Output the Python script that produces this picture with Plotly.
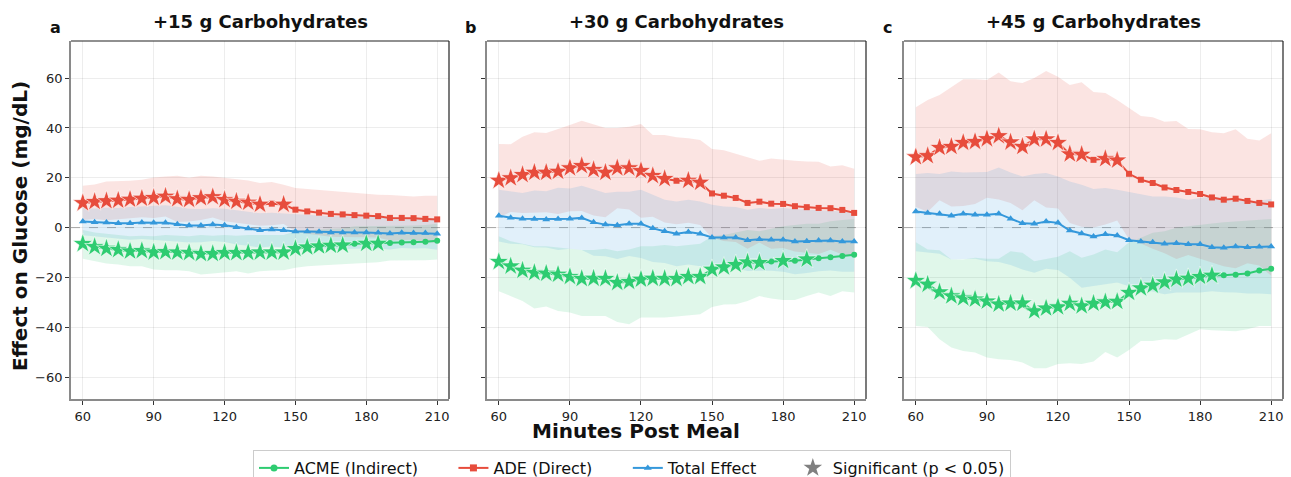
import plotly.graph_objects as go

minutes = list(range(60, 215, 5))

# ---------- Panel a: +15 g ----------
a_acme = [-6.5,-7.7,-8.4,-8.9,-9.5,-9.3,-9.9,-9.7,-9.9,-10.1,-10.5,-10.5,-10.1,-10.1,-10.1,-9.9,-9.9,-9.9,-8.5,-7.9,-7.5,-7.2,-7.1,-6.5,-6.4,-6.4,-6.2,-6.0,-5.9,-5.7,-5.3]
a_acme_hi = [-1.0,-2.0,-2.5,-3.0,-3.5,-3.3,-3.5,-3.0,-3.3,-3.5,-3.0,-3.3,-3.0,-3.3,-3.0,-3.0,-3.0,-3.0,-1.5,-1.0,-0.8,-0.5,-0.3,0.5,0.5,0.5,0.5,0.8,0.8,1.0,1.5]
a_acme_lo = [-12.5,-13.5,-14.4,-14.8,-15.5,-15.5,-16.8,-17.1,-17.1,-17.5,-18.8,-18.4,-17.9,-17.5,-18.4,-17.5,-17.2,-17.1,-16.1,-15.5,-15.2,-14.9,-14.8,-14.4,-13.9,-13.9,-13.2,-13.2,-13.1,-13.1,-12.8]
a_acme_sig = [1]*23 + [0,1,1] + [0]*5
a_ade = [9.9,10.4,10.7,10.9,11.3,11.7,12.0,12.5,11.5,11.2,11.9,12.3,11.2,10.5,10.1,9.3,9.6,9.3,7.2,6.5,6.0,5.5,5.3,5.0,4.8,4.6,3.9,3.9,3.8,3.5,3.3]
a_ade_hi = [16.8,17.3,18.5,18.5,18.8,19.2,20.1,20.5,20.8,20.0,20.8,20.5,19.9,19.2,18.9,17.9,18.3,17.2,15.9,15.5,15.1,14.7,14.4,14.0,13.5,13.2,13.1,12.8,12.5,12.8,12.8]
a_ade_lo = [3.0,3.5,2.9,3.3,3.8,4.2,3.9,4.5,2.2,2.4,3.0,4.1,2.5,1.8,1.3,0.7,0.9,1.4,-1.5,-2.5,-3.1,-3.7,-3.8,-4.0,-3.9,-4.0,-5.3,-5.0,-4.9,-5.8,-6.2]
a_ade_sig = [1]*16 + [0,1] + [0]*13
a_tot = [2.4,2.1,2.0,1.7,1.7,2.0,1.9,1.9,1.3,0.8,0.8,1.2,0.9,0.1,-0.4,-1.1,-0.8,-1.1,-1.6,-1.6,-1.7,-2.0,-2.0,-2.0,-2.0,-2.1,-2.4,-2.1,-2.2,-2.2,-2.5]
a_tot_hi = [7.9,7.7,8.0,7.9,8.3,8.6,8.8,9.0,8.4,7.6,7.5,7.8,7.6,7.0,6.5,5.8,6.0,5.7,5.2,5.0,4.9,4.6,4.6,4.5,4.4,4.2,4.0,4.0,4.0,3.9,3.9]
a_tot_lo = [-3.1,-3.5,-4.0,-4.5,-4.9,-4.6,-5.0,-5.2,-5.8,-6.0,-5.9,-5.4,-5.8,-6.8,-7.3,-8.0,-7.6,-7.9,-8.4,-8.2,-8.3,-8.6,-8.6,-8.5,-8.4,-8.4,-8.8,-8.2,-8.4,-8.3,-8.9]

# ---------- Panel b: +30 g ----------
b_acme = [-13.7,-15.5,-17.2,-18.1,-18.4,-18.8,-19.7,-20.5,-20.4,-20.5,-22.1,-21.7,-20.8,-20.4,-20.5,-20.5,-19.7,-19.7,-16.8,-15.9,-14.9,-13.9,-14.1,-13.6,-13.3,-13.3,-12.7,-12.3,-11.9,-11.4,-10.9]
b_acme_hi = [-3.5,-5.5,-6.5,-7.5,-7.5,-8.0,-8.8,-9.0,-9.0,-8.5,-9.5,-8.8,-7.5,-7.5,-7.0,-7.5,-7.0,-6.5,-3.5,-3.0,-2.0,-1.0,-1.5,-0.5,0.5,1.0,1.5,1.5,2.5,3.0,3.5]
b_acme_lo = [-25.5,-27.5,-29.5,-32.5,-31.7,-33.5,-34.1,-35.5,-35.5,-35.5,-37.9,-38.8,-36.1,-36.1,-36.1,-35.7,-35.2,-34.8,-31.9,-30.9,-30.8,-29.5,-27.5,-28.5,-29.1,-29.1,-27.5,-26.1,-27.5,-25.5,-26.1]
b_acme_sig = [1]*23 + [0,1,0,1] + [0]*4
b_ade = [18.9,19.9,21.2,22.1,22.1,22.5,23.9,24.8,23.2,22.1,23.9,23.9,22.8,20.8,19.6,18.8,18.9,18.1,13.7,12.8,11.9,9.9,10.4,9.6,9.5,8.6,8.2,7.9,7.8,7.1,5.9]
b_ade_hi = [33.6,33.5,36.5,38.3,38.0,39.5,41.2,42.9,41.5,40.0,40.0,40.5,41.6,37.2,37.2,36.3,35.9,35.2,31.5,31.0,29.6,28.3,26.8,27.7,27.2,26.8,26.5,26.4,24.5,25.0,23.6]
b_ade_lo = [4.2,6.3,5.9,5.9,6.2,5.5,6.6,6.7,4.9,4.2,7.8,7.3,4.0,4.4,2.0,1.3,1.9,1.0,-4.1,-5.4,-5.8,-8.5,-6.0,-8.5,-8.2,-9.6,-10.1,-10.6,-8.9,-10.8,-11.8]
b_ade_sig = [1]*15 + [0,1,1] + [0]*13
b_tot = [4.8,4.0,3.6,3.5,3.3,3.5,3.6,3.9,2.1,1.2,0.9,1.5,1.5,-0.3,-1.5,-2.5,-1.8,-2.5,-4.0,-4.0,-4.0,-5.1,-4.7,-4.9,-4.9,-5.6,-5.5,-5.2,-5.2,-5.6,-5.6]
b_tot_hi = [15.2,14.5,13.9,14.9,14.6,16.0,15.7,16.8,15.5,13.9,14.4,14.4,15.2,13.2,11.2,10.5,11.2,10.5,9.2,8.5,8.3,7.2,7.9,7.5,7.9,7.5,7.2,7.1,6.8,6.5,6.5]
b_tot_lo = [-5.6,-6.5,-6.7,-7.9,-8.0,-9.0,-8.5,-9.0,-11.3,-11.5,-12.6,-11.4,-12.2,-13.8,-14.2,-15.5,-14.8,-15.5,-17.2,-16.5,-16.3,-17.4,-17.3,-17.3,-17.7,-18.7,-18.2,-17.5,-17.2,-17.7,-17.7]

# ---------- Panel c: +45 g ----------
c_acme = [-21.3,-22.8,-25.9,-27.5,-28.3,-28.8,-29.6,-30.8,-30.4,-30.4,-33.5,-32.4,-31.9,-30.5,-31.5,-30.5,-29.9,-29.7,-26.1,-24.3,-23.2,-21.9,-20.8,-20.4,-19.7,-19.2,-19.1,-18.9,-18.4,-17.2,-16.5]
c_acme_hi = [-5.9,-8.8,-9.1,-12.8,-12.8,-12.1,-12.5,-12.5,-9.5,-10.1,-13.5,-12.5,-11.7,-9.5,-12.1,-10.8,-8.8,-9.9,-5.9,-4.1,-2.1,-1.5,-0.1,0.5,1.2,1.6,2.1,2.4,2.9,3.2,3.5]
c_acme_lo = [-39.5,-39.9,-44.8,-48.1,-49.5,-50.1,-52.1,-52.8,-53.1,-54.1,-56.5,-56.5,-54.8,-54.5,-54.8,-53.7,-49.9,-52.1,-49.1,-45.5,-45.5,-44.8,-45.0,-42.8,-40.8,-41.2,-41.5,-41.6,-40.8,-39.5,-39.5]
c_acme_sig = [1]*26 + [0]*5
c_ade = [28.3,28.8,32.1,32.5,34.1,34.5,35.6,36.8,34.3,32.5,35.5,35.5,34.1,29.5,29.3,27.2,27.6,27.0,21.6,19.2,17.9,16.1,15.1,14.3,13.5,12.1,11.2,11.6,10.7,9.9,9.3]
c_ade_hi = [48.3,51.2,53.2,56.5,59.5,59.5,59.2,62.3,58.7,58.0,60.0,62.9,60.5,57.2,58.3,54.4,54.0,51.2,47.9,44.8,44.3,42.5,42.8,39.6,39.5,38.3,37.9,39.5,35.7,35.0,37.9]
c_ade_lo = [8.3,6.4,11.0,8.5,8.7,9.5,12.0,11.3,9.9,7.0,11.0,8.1,7.7,1.8,0.3,0.0,1.2,2.8,-4.7,-6.4,-8.5,-10.3,-12.6,-11.0,-12.5,-14.1,-15.5,-16.3,-14.3,-15.2,-19.3]
c_ade_sig = [1]*15 + [0,1,1] + [0]*13
c_tot = [6.5,5.9,5.6,4.8,5.6,5.2,5.2,5.6,3.6,1.7,1.5,2.4,1.9,-1.2,-2.4,-3.6,-2.7,-3.2,-5.1,-5.6,-5.9,-6.5,-6.3,-6.7,-6.7,-7.9,-8.1,-7.6,-7.9,-7.7,-7.6]
c_tot_hi = [21.5,21.9,21.5,22.5,22.1,22.3,22.3,24.1,22.1,20.5,21.5,21.9,20.5,18.5,17.2,15.5,15.9,15.2,14.3,13.2,12.5,12.5,12.1,11.2,11.9,12.5,11.9,11.2,10.5,10.9,11.5]
c_tot_lo = [-9.5,-10.0,-10.5,-12.8,-12.5,-12.5,-13.5,-13.8,-15.0,-16.8,-18.1,-16.5,-17.0,-20.1,-24.1,-23.5,-22.8,-22.0,-23.5,-24.5,-25.5,-26.8,-26.1,-26.0,-26.1,-25.5,-26.0,-26.1,-26.5,-26.5,-26.8]

panel_titles = ["+15 g Carbohydrates", "+30 g Carbohydrates", "+45 g Carbohydrates"]
panel_letters = ["a", "b", "c"]
x_ticks = [60, 90, 120, 150, 180, 210]
y_ticks = [-60, -40, -20, 0, 20, 40, 60]
legend_names = ["ACME (Indirect)", "ADE (Direct)", "Total Effect", "Significant (p < 0.05)"]

panels = [
    dict(acme=(a_acme, a_acme_lo, a_acme_hi, a_acme_sig), ade=(a_ade, a_ade_lo, a_ade_hi, a_ade_sig), tot=(a_tot, a_tot_lo, a_tot_hi)),
    dict(acme=(b_acme, b_acme_lo, b_acme_hi, b_acme_sig), ade=(b_ade, b_ade_lo, b_ade_hi, b_ade_sig), tot=(b_tot, b_tot_lo, b_tot_hi)),
    dict(acme=(c_acme, c_acme_lo, c_acme_hi, c_acme_sig), ade=(c_ade, c_ade_lo, c_ade_hi, c_ade_sig), tot=(c_tot, c_tot_lo, c_tot_hi)),
]

GREEN, RED, BLUE = "#2ecc71", "#e74c3c", "#3498db"
FILL = {"acme": "rgba(46,204,113,0.15)", "ade": "rgba(231,76,60,0.15)", "tot": "rgba(52,152,219,0.15)"}
COL = {"acme": GREEN, "ade": RED, "tot": BLUE}
SYM = {"acme": "circle", "ade": "square", "tot": "triangle-up"}
MSIZE = {"acme": 6, "ade": 6, "tot": 7}
FONT = "DejaVu Sans"
PAD = "\u00a0" * 6

fig = go.Figure()

W, H = 1291, 477
ml, mr, mt, mb = 71, 8, 41, 78
pw = W - ml - mr
ph = H - mt - mb
doms = [(71, 449), (487, 866), (904, 1283)]
domains = [((a - ml) / pw, (b - ml) / pw) for a, b in doms]
bottom = H - mb


def px_y(y):
    return (bottom - y) / ph


def px_x(x):
    return (x - ml) / pw


for i, p in enumerate(panels):
    xa = "x" if i == 0 else f"x{i+1}"
    ya = "y" if i == 0 else f"y{i+1}"
    for key in ["acme", "ade", "tot"]:
        vals = p[key]
        lo, hi = vals[1], vals[2]
        fig.add_trace(go.Scatter(x=minutes, y=hi, mode="lines", line=dict(width=0), xaxis=xa, yaxis=ya,
                                 showlegend=False, hoverinfo="skip"))
        fig.add_trace(go.Scatter(x=minutes, y=lo, mode="lines", line=dict(width=0), fill="tonexty",
                                 fillcolor=FILL[key], xaxis=xa, yaxis=ya, showlegend=False, hoverinfo="skip"))
    for key in ["acme", "ade", "tot"]:
        vals = p[key]
        y = vals[0]
        sig = vals[3] if len(vals) > 3 else [0] * len(y)
        fig.add_trace(go.Scatter(x=minutes, y=y, mode="lines", line=dict(color=COL[key], width=2),
                                 xaxis=xa, yaxis=ya, showlegend=False))
        xn = [m for m, s in zip(minutes, sig) if not s]
        yn = [v for v, s in zip(y, sig) if not s]
        fig.add_trace(go.Scatter(x=xn, y=yn, mode="markers",
                                 marker=dict(symbol=SYM[key], size=MSIZE[key], color=COL[key]),
                                 xaxis=xa, yaxis=ya, showlegend=False))
        xs = [m for m, s in zip(minutes, sig) if s]
        ys = [v for v, s in zip(y, sig) if s]
        if xs:
            fig.add_trace(go.Scatter(x=xs, y=ys, mode="markers",
                                     marker=dict(symbol="star", size=15, color=COL[key],
                                                 line=dict(color="white", width=0.6)),
                                     xaxis=xa, yaxis=ya, showlegend=False))

for name, key in zip(legend_names[:3], ["acme", "ade", "tot"]):
    fig.add_trace(go.Scatter(x=[None], y=[None], mode="lines+markers", name=name + PAD,
                             line=dict(color=COL[key], width=2),
                             marker=dict(symbol=SYM[key], size=7, color=COL[key])))
fig.add_trace(go.Scatter(x=[None], y=[None], mode="markers", name=legend_names[3],
                         marker=dict(symbol="star", size=14, color="gray")))

axis_common = dict(showline=True, mirror=False, linecolor="#8a8a8a", linewidth=1.8,
                   ticks="outside", ticklen=4, tickcolor="#333",
                   showgrid=True, gridcolor="rgba(0,0,0,0.07)", gridwidth=1, zeroline=False,
                   tickfont=dict(family=FONT, size=13, color="#222"))

layout = dict(
    width=W, height=H,
    margin=dict(l=ml, r=mr, t=mt, b=mb, autoexpand=False),
    plot_bgcolor="white", paper_bgcolor="white",
    font=dict(family=FONT, color="#111"),
    showlegend=True,
    legend=dict(orientation="h", x=px_x(253), xanchor="left", y=px_y(450), yanchor="top",
                traceorder="normal",
                bordercolor="#cccccc", borderwidth=1, font=dict(family=FONT, size=16, color="#111"),
                itemwidth=30, tracegroupgap=0),
)
shapes = []
annotations = []
for i in range(3):
    sfx = "" if i == 0 else str(i + 1)
    layout[f"xaxis{sfx}"] = dict(domain=list(domains[i]), range=[55, 215], tickvals=x_ticks,
                                 anchor=f"y{sfx}", **axis_common)
    layout[f"yaxis{sfx}"] = dict(domain=[0, 1], range=[-68.8, 74.9], tickvals=y_ticks,
                                 anchor=f"x{sfx}", showticklabels=(i == 0), **axis_common)
    shapes.append(dict(type="line", xref=f"x{sfx} domain", yref=f"y{sfx}", x0=0, x1=1, y0=0, y1=0,
                       line=dict(color="rgba(0,0,0,0.3)", width=1, dash="dash"), layer="below"))
    shapes.append(dict(type="line", xref=f"x{sfx} domain", yref=f"y{sfx} domain", x0=0, x1=1, y0=1, y1=1,
                       line=dict(color="#222", width=1.2), layer="above"))
    shapes.append(dict(type="line", xref=f"x{sfx} domain", yref=f"y{sfx} domain", x0=1, x1=1, y0=0, y1=1,
                       line=dict(color="#222", width=1.2), layer="above"))
    cx = (domains[i][0] + domains[i][1]) / 2
    annotations.append(dict(text=f"<b>{panel_titles[i]}</b>", x=cx, y=px_y(22), xref="paper", yref="paper",
                            showarrow=False, xanchor="center", yanchor="middle",
                            font=dict(family=FONT, size=18, color="#111")))
    lx = [55, 470, 887][i]
    annotations.append(dict(text=f"<b>{panel_letters[i]}</b>", x=px_x(lx), y=px_y(28),
                            xref="paper", yref="paper", showarrow=False, xanchor="center", yanchor="middle",
                            font=dict(family=FONT, size=16, color="#111")))

annotations.append(dict(text="<b>Minutes Post Meal</b>", x=px_x(636), y=px_y(431),
                        xref="paper", yref="paper", showarrow=False, xanchor="center", yanchor="middle",
                        font=dict(family=FONT, size=20, color="#111")))
annotations.append(dict(text="<b>Effect on Glucose (mg/dL)</b>", x=px_x(20), y=px_y(226),
                        xref="paper", yref="paper", showarrow=False, xanchor="center", yanchor="middle",
                        textangle=-90, font=dict(family=FONT, size=20, color="#111")))
layout["shapes"] = shapes
layout["annotations"] = annotations
fig.update_layout(**layout)

fig.write_html("out.html")
